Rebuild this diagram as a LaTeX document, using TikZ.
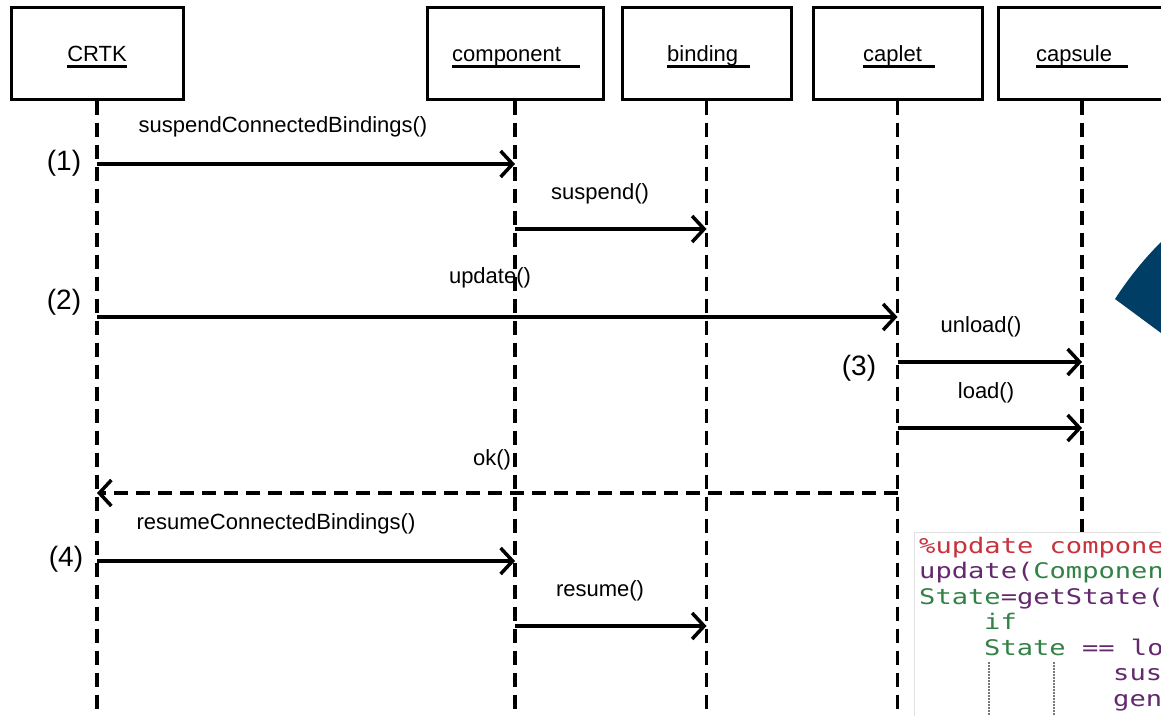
\documentclass[tikz,border=0pt]{standalone}
\usepackage{fontspec}
\setmainfont{Liberation Sans}
\newfontfamily\codefont[FakeStretch=1.26]{DejaVu Sans Mono}
\usetikzlibrary{arrows.meta}

\definecolor{navy}{RGB}{0,62,102}
\definecolor{codered}{RGB}{200,50,60}
\definecolor{codepurple}{RGB}{100,40,110}
\definecolor{codegreen}{RGB}{50,130,70}
\definecolor{guidegray}{RGB}{120,120,120}
\definecolor{edgegray}{RGB}{225,225,225}

\begin{document}
\begin{tikzpicture}[x=1pt,y=-1pt,
  objbox/.style={draw, line width=3pt, minimum height=92pt, inner sep=0pt},
  objname/.style={inner sep=0pt, font=\fontsize{22}{26}\selectfont},
  uline/.style={line width=3pt},
  life/.style={line width=3.5pt, dash pattern=on 14pt off 8pt},
  msg/.style={line width=3.5pt, -{Straight Barb[length=12pt,width=26pt]}},
  reply/.style={msg, dash pattern=on 14pt off 8pt},
  msglbl/.style={inner sep=0pt, font=\fontsize{22}{26}\selectfont},
  steplbl/.style={inner sep=0pt, font=\fontsize{28}{32}\selectfont},
  code/.style={inner sep=0pt, anchor=base west, font=\codefont\fontsize{21.5}{25}\selectfont},
  guideline/.style={guidegray, line width=1.3pt, dash pattern=on 1.5pt off 1.5pt}
]
\useasboundingbox (0,0) rectangle (1161,715);
\clip (0,0) rectangle (1161,715);

% lifeline heads
\node[objbox, minimum width=172pt] (crtk) at (97,53) {};
\node[objbox, minimum width=176pt] (comp) at (515,53) {};
\node[objbox, minimum width=169pt] (bind) at (706.5,53) {};
\node[objbox, minimum width=169pt] (capl) at (897.5,53) {};
\node[objbox, minimum width=168pt] (caps) at (1082,53) {};

% underlined object names
\node[objname, anchor=base] (crtkT) at (97,61) {CRTK};
\node[objname, anchor=base west] (compT) at (452,61) {component};
\node[objname, anchor=base west] (bindT) at (667,61) {binding};
\node[objname, anchor=base west] (caplT) at (863,61) {caplet};
\node[objname, anchor=base west] (capsT) at (1036,61) {capsule};
\draw[uline] ([yshift=-5pt]crtkT.base west) -- ([yshift=-5pt]crtkT.base east);
\draw[uline] ([yshift=-5pt]compT.base west) -- ([xshift=19pt,yshift=-5pt]compT.base east);
\draw[uline] ([yshift=-5pt]bindT.base west) -- ([xshift=12pt,yshift=-5pt]bindT.base east);
\draw[uline] ([yshift=-5pt]caplT.base west) -- ([xshift=13pt,yshift=-5pt]caplT.base east);
\draw[uline] ([yshift=-5pt]capsT.base west) -- ([xshift=16pt,yshift=-5pt]capsT.base east);

% lifelines
\coordinate (bottom) at (0,715);
\foreach \o in {crtk,comp,bind,capl,caps}
  \draw[life] (\o.south) -- (\o.south |- bottom);

% message levels
\coordinate (y1) at (0,164);
\coordinate (y2) at (0,229);
\coordinate (y3) at (0,317);
\coordinate (y4) at (0,362);
\coordinate (y5) at (0,428);
\coordinate (y6) at (0,493);
\coordinate (y7) at (0,561);
\coordinate (y8) at (0,626);

% messages
\draw[msg] (crtk.south |- y1) -- (comp.south |- y1);
\draw[msg] (comp.south |- y2) -- (bind.south |- y2);
\draw[msg] (crtk.south |- y3) -- (capl.south |- y3);
\draw[msg] (capl.south |- y4) -- (caps.south |- y4);
\draw[msg] (capl.south |- y5) -- (caps.south |- y5);
\draw[reply] (capl.south |- y6) -- (crtk.south |- y6);
\draw[msg] (crtk.south |- y7) -- (comp.south |- y7);
\draw[msg] (comp.south |- y8) -- (bind.south |- y8);

% message names
\node[msglbl] (l1) at (283,127) {suspendConnectedBindings()};
\node[msglbl] (l2) at (600,194) {suspend()};
\node[msglbl] (l3) at (490,278) {update()};
\node[msglbl] (l4) at (981,327) {unload()};
\node[msglbl] (l5) at (986,393) {load()};
\node[msglbl] (l6) at (492,460) {ok()};
\node[msglbl] (l7) at (276,524) {resumeConnectedBindings()};
\node[msglbl] (l8) at (600,591) {resume()};

% step numbers
\node[steplbl] (s1) at (64,163) {(1)};
\node[steplbl] (s2) at (64,302) {(2)};
\node[steplbl] (s3) at (859,368) {(3)};
\node[steplbl] (s4) at (66,559) {(4)};

% corner marker
\fill[navy] (1115,299) .. controls (1128,279) and (1143,260) .. (1161,242)
  -- (1161,333) -- cycle;

% code excerpt
\filldraw[fill=white, draw=edgegray, line width=1pt] (914,532) rectangle (1170,720);
\node[code] (c1) at (919,553) {\textcolor{codered}{\%update component}};
\node[code] (c2) at (919,578.5) {\textcolor{codepurple}{update(}\textcolor{codegreen}{Component}};
\node[code] (c3) at (919,604) {\textcolor{codegreen}{State}\textcolor{codepurple}{=getState(}};
\node[code] (c4) at (984,629.5) {\textcolor{codegreen}{if}};
\node[code] (c5) at (984,655) {\textcolor{codegreen}{State}\textcolor{codepurple}{\ == lo}};
\node[code] (c6) at (1113,680.5) {\textcolor{codepurple}{sus}};
\node[code] (c7) at (1113,706) {\textcolor{codepurple}{gen}};
\draw[guideline] (989,662) -- (989,715);
\draw[guideline] (1054,662) -- (1054,715);
\end{tikzpicture}
\end{document}
